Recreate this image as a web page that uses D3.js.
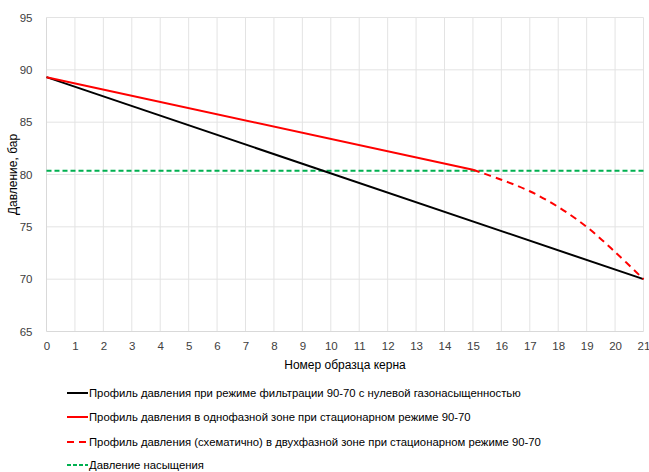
<!DOCTYPE html>
<html><head><meta charset="utf-8">
<script src="https://cdn.jsdelivr.net/npm/d3@7"></script>
<style>body{margin:0;background:#fff}svg{display:block}text{font-family:"Liberation Sans",Arial,sans-serif;fill:#404040}</style>
</head><body><div id="chart"></div>
<script>
const xTicks = d3.range(0, 22);
const yTicks = [65, 70, 75, 80, 85, 90, 95];
const blackX = [0, 21];
const blackY = [89.3, 70];
const redX = [0, 15];
const redY = [89.3, 80.45];
const dashX = [15, 16, 17, 18, 19, 20, 21];
const dashY = [80.45, 79.5, 78.4, 76.9, 75.0, 72.6, 70];
const satX = [0, 21];
const satY = [80.35, 80.35];
const legendLabels = [
  "Профиль давления при режиме фильтрации 90-70 с нулевой газонасыщенностью",
  "Профиль давления в однофазной зоне при стационарном режиме 90-70",
  "Профиль давления (схематично) в двухфазной зоне при стационарном режиме 90-70",
  "Давление насыщения"
];

const W = 649, H = 472;
const svg = d3.select("#chart").append("svg").attr("width", W).attr("height", H);
const x = d3.scaleLinear().domain([0, 21]).range([46.5, 643.5]);
const y = d3.scaleLinear().domain([65, 95]).range([331.5, 17.5]);

// grid
svg.append("g").selectAll("line").data(xTicks.slice(1)).join("line")
  .attr("x1", d => x(d)).attr("x2", d => x(d)).attr("y1", y(95)).attr("y2", y(65))
  .attr("stroke", "#e3e3e3").attr("stroke-width", 1);
svg.append("g").selectAll("line").data(yTicks.slice(1)).join("line")
  .attr("x1", x(0)).attr("x2", x(21)).attr("y1", d => y(d)).attr("y2", d => y(d))
  .attr("stroke", "#e3e3e3").attr("stroke-width", 1);
// axes lines
svg.append("line").attr("x1", x(0)).attr("x2", x(0)).attr("y1", y(95)).attr("y2", y(65)).attr("stroke", "#d9d9d9");
svg.append("line").attr("x1", x(0)).attr("x2", x(21)).attr("y1", y(65)).attr("y2", y(65)).attr("stroke", "#d9d9d9");

// tick labels via axes
const xAxis = svg.append("g").attr("transform", `translate(0,${y(65)})`)
  .call(d3.axisBottom(x).tickValues(xTicks).tickSize(0).tickPadding(10).tickFormat(d3.format("d")));
xAxis.select(".domain").remove();
xAxis.selectAll("text").attr("font-size", 11.5).style("fill", "#404040");
const yAxis = svg.append("g").attr("transform", `translate(${x(0)},0)`)
  .call(d3.axisLeft(y).tickValues(yTicks).tickSize(0).tickPadding(14).tickFormat(d3.format("d")));
yAxis.select(".domain").remove();
yAxis.selectAll("text").attr("font-size", 11.5).style("fill", "#404040");

svg.append("text").attr("x", (x(0) + x(21)) / 2).attr("y", 369).attr("text-anchor", "middle")
  .attr("font-size", 12).style("fill", "#000").text("Номер образца керна");
svg.append("text").attr("transform", `translate(17,${(y(65) + y(95)) / 2}) rotate(-90)`)
  .attr("text-anchor", "middle").attr("font-size", 12).style("fill", "#000").text("Давление, бар");

const line = d3.line().x(d => x(d[0])).y(d => y(d[1]));
const zip = (a, b) => a.map((v, i) => [v, b[i]]);

svg.append("path").datum(zip(satX, satY)).attr("d", line).attr("fill", "none")
  .attr("stroke", "#00b050").attr("stroke-width", 2).attr("stroke-dasharray", "5,3");
svg.append("path").datum(zip(blackX, blackY)).attr("d", line).attr("fill", "none")
  .attr("stroke", "#000").attr("stroke-width", 2);
svg.append("path").datum(zip(redX, redY)).attr("d", line).attr("fill", "none")
  .attr("stroke", "#ff0000").attr("stroke-width", 2);
svg.append("path").datum(zip(dashX, dashY)).attr("d", d3.line().x(d => x(d[0])).y(d => y(d[1])).curve(d3.curveCatmullRom.alpha(0.5))).attr("fill", "none")
  .attr("stroke", "#ff0000").attr("stroke-width", 2).attr("stroke-dasharray", "7,5");

// legend
const legStyles = [
  {c: "#000", d: null}, {c: "#ff0000", d: null}, {c: "#ff0000", d: "7,5"}, {c: "#00b050", d: "4,2"}
];
const legY = [393, 417, 442, 465];
const leg = svg.append("g");
legendLabels.forEach((t, i) => {
  leg.append("line").attr("x1", 67).attr("x2", 88).attr("y1", legY[i]).attr("y2", legY[i])
    .attr("stroke", legStyles[i].c).attr("stroke-width", 2).attr("stroke-dasharray", legStyles[i].d);
  leg.append("text").attr("x", 89).attr("y", legY[i] + 4).attr("font-size", 11.3).style("fill", "#000").text(t);
});
</script></body></html>
